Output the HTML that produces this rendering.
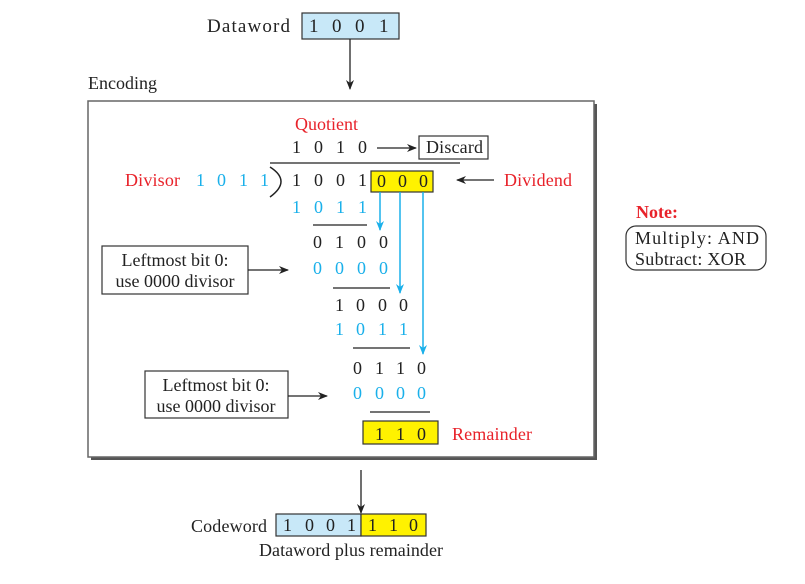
<!DOCTYPE html>
<html><head><meta charset="utf-8"><style>
html,body{margin:0;padding:0;background:#fff;}
svg{display:block;font-family:"Liberation Serif",serif;}
</style></head><body>
<svg width="805" height="584" viewBox="0 0 805 584" xmlns="http://www.w3.org/2000/svg">
<defs>
<marker id="ak" markerWidth="10" markerHeight="8" refX="9" refY="4" orient="auto" markerUnits="userSpaceOnUse"><path d="M0,0 L10,4 L0,8 L3,4 Z" fill="#222"/></marker>
<marker id="ab" markerWidth="10" markerHeight="8" refX="9" refY="4" orient="auto" markerUnits="userSpaceOnUse"><path d="M0,0 L10,4 L0,8 L3,4 Z" fill="#1ab0ea"/></marker>
</defs>
<g font-size="19" fill="#222">
<text x="207" y="32" textLength="83">Dataword</text>
<rect x="302" y="13" width="97" height="26" fill="#c8e8f8" stroke="#333" stroke-width="1.2"/>
<text x="309" y="32">1</text><text x="332" y="32">0</text><text x="355" y="32">0</text><text x="379" y="32">1</text>
<line x1="350" y1="39" x2="350" y2="89" stroke="#222" stroke-width="1.3" marker-end="url(#ak)"/>
<text x="88" y="89" font-size="18" textLength="69">Encoding</text>
</g>
<rect x="91" y="104" width="506" height="356" fill="#555"/>
<rect x="88" y="101" width="506" height="356" fill="#fff" stroke="#666" stroke-width="1.5"/>
<g font-size="18" fill="#222">
<text x="295" y="130" fill="#e8222a" textLength="63">Quotient</text>
<text x="292" y="153">1</text><text x="314" y="153">0</text><text x="336" y="153">1</text><text x="358" y="153">0</text>
<line x1="377" y1="148" x2="416" y2="148" stroke="#222" stroke-width="1.2" marker-end="url(#ak)"/>
<rect x="419" y="136" width="69" height="23" fill="#fff" stroke="#333" stroke-width="1.2"/>
<text x="426" y="153" textLength="57">Discard</text>
<line x1="270" y1="163" x2="460" y2="163" stroke="#222" stroke-width="1.3"/>
<path d="M270,167 Q292,181 270,197" fill="none" stroke="#222" stroke-width="1.5"/>
<text x="125" y="186" fill="#e8222a" textLength="55">Divisor</text>
<g fill="#1ab0ea"><text x="196" y="186">1</text><text x="217" y="186">0</text><text x="239" y="186">1</text><text x="260" y="186">1</text></g>
<text x="292" y="186">1</text><text x="314" y="186">0</text><text x="336" y="186">0</text><text x="358" y="186">1</text>
<rect x="371" y="171" width="62" height="21" fill="#fff200" stroke="#333" stroke-width="1.2"/>
<text x="377" y="187">0</text><text x="398" y="187">0</text><text x="419" y="187">0</text>
<line x1="494" y1="180" x2="457" y2="180" stroke="#222" stroke-width="1.2" marker-end="url(#ak)"/>
<text x="504" y="186" fill="#e8222a" textLength="68">Dividend</text>
<g fill="#1ab0ea"><text x="292" y="213">1</text><text x="314" y="213">0</text><text x="336" y="213">1</text><text x="358" y="213">1</text></g>
<line x1="313" y1="225" x2="367" y2="225" stroke="#222" stroke-width="1.2"/>
<line x1="380" y1="192" x2="380" y2="230" stroke="#1ab0ea" stroke-width="1.5" marker-end="url(#ab)"/>
<line x1="400" y1="192" x2="400" y2="293" stroke="#1ab0ea" stroke-width="1.5" marker-end="url(#ab)"/>
<line x1="423" y1="192" x2="423" y2="354" stroke="#1ab0ea" stroke-width="1.5" marker-end="url(#ab)"/>
<text x="313" y="248">0</text><text x="335" y="248">1</text><text x="357" y="248">0</text><text x="379" y="248">0</text>
<g fill="#1ab0ea"><text x="313" y="274">0</text><text x="335" y="274">0</text><text x="357" y="274">0</text><text x="379" y="274">0</text></g>
<line x1="333" y1="288" x2="390" y2="288" stroke="#222" stroke-width="1.2"/>
<rect x="102" y="246" width="146" height="48" fill="#fff" stroke="#333" stroke-width="1.2"/>
<text x="175" y="266" text-anchor="middle">Leftmost bit 0:</text>
<text x="175" y="287" text-anchor="middle">use 0000 divisor</text>
<line x1="248" y1="270" x2="288" y2="270" stroke="#222" stroke-width="1.2" marker-end="url(#ak)"/>
<text x="335" y="311">1</text><text x="356" y="311">0</text><text x="378" y="311">0</text><text x="399" y="311">0</text>
<g fill="#1ab0ea"><text x="335" y="335">1</text><text x="356" y="335">0</text><text x="378" y="335">1</text><text x="399" y="335">1</text></g>
<line x1="353" y1="348" x2="410" y2="348" stroke="#222" stroke-width="1.2"/>
<text x="353" y="374">0</text><text x="375" y="374">1</text><text x="396" y="374">1</text><text x="417" y="374">0</text>
<g fill="#1ab0ea"><text x="353" y="399">0</text><text x="375" y="399">0</text><text x="396" y="399">0</text><text x="417" y="399">0</text></g>
<line x1="370" y1="412" x2="430" y2="412" stroke="#222" stroke-width="1.2"/>
<rect x="145" y="371" width="143" height="47" fill="#fff" stroke="#333" stroke-width="1.2"/>
<text x="216" y="391" text-anchor="middle">Leftmost bit 0:</text>
<text x="216" y="412" text-anchor="middle">use 0000 divisor</text>
<line x1="288" y1="396" x2="327" y2="396" stroke="#222" stroke-width="1.2" marker-end="url(#ak)"/>
<rect x="363" y="421" width="75" height="23" fill="#fff200" stroke="#333" stroke-width="1.2"/>
<text x="375" y="440">1</text><text x="396" y="440">1</text><text x="417" y="440">0</text>
<text x="452" y="440" fill="#e8222a" textLength="80">Remainder</text>
</g>
<g font-size="18" fill="#222">
<line x1="361" y1="470" x2="361" y2="513" stroke="#222" stroke-width="1.3" marker-end="url(#ak)"/>
<text x="191" y="532" textLength="76">Codeword</text>
<rect x="276" y="514" width="85" height="22" fill="#c8e8f8" stroke="#333" stroke-width="1.2"/>
<rect x="361" y="514" width="65" height="22" fill="#fff200" stroke="#333" stroke-width="1.2"/>
<text x="283" y="531">1</text><text x="305" y="531">0</text><text x="326" y="531">0</text><text x="347" y="531">1</text>
<text x="368" y="531">1</text><text x="389" y="531">1</text><text x="409" y="531">0</text>
<text x="259" y="556" textLength="184">Dataword plus remainder</text>
<text x="636" y="218" fill="#e8222a" font-weight="bold" textLength="42">Note:</text>
<rect x="626" y="226" width="140" height="44" rx="10" fill="#fff" stroke="#333" stroke-width="1.2"/>
<text x="635" y="244" textLength="124">Multiply: AND</text>
<text x="635" y="265" textLength="111">Subtract: XOR</text>
</g>
</svg>
</body></html>
